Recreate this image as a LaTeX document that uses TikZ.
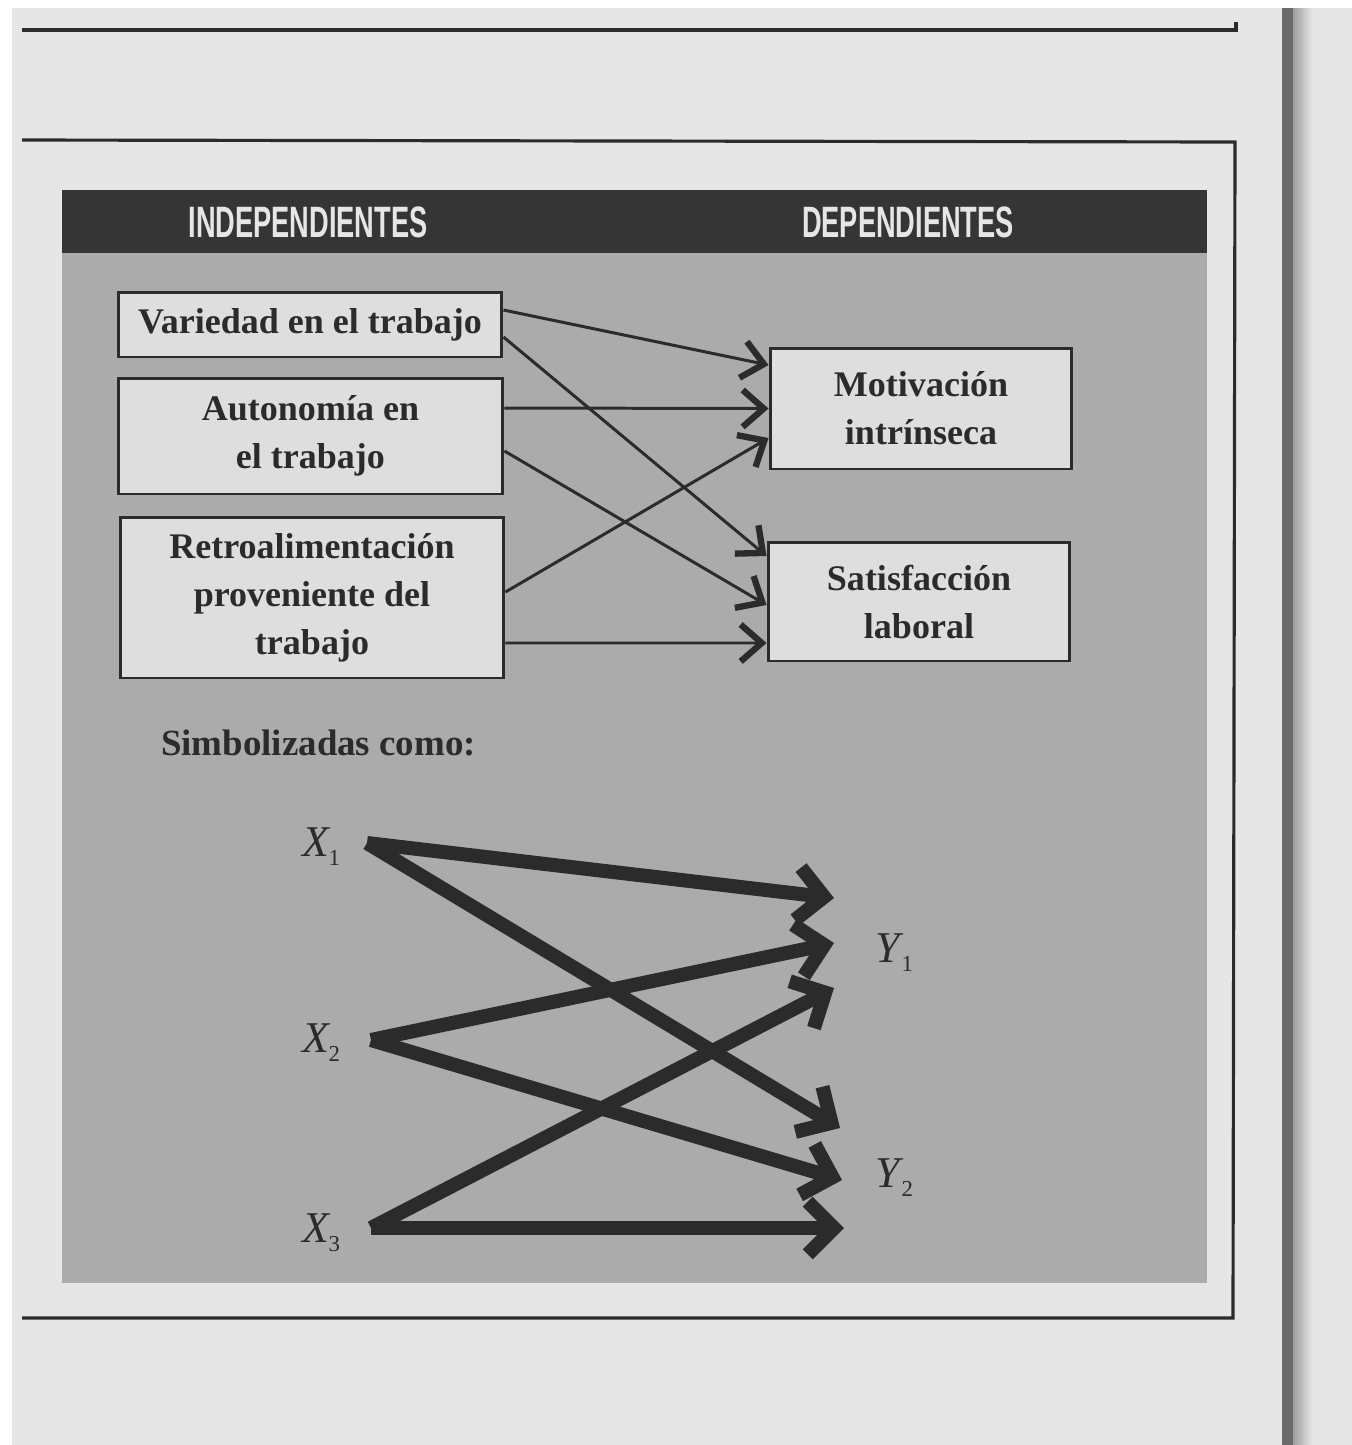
\documentclass[tikz,border=0pt]{standalone}
\usepackage{fontspec}
\setmainfont{Liberation Serif}
\newfontfamily\headfont{Liberation Sans}[FakeStretch=0.62]
\usetikzlibrary{arrows.meta,calc}

\definecolor{pagegray}{HTML}{E6E6E6}
\definecolor{panelgray}{HTML}{ABABAB}
\definecolor{boxgray}{HTML}{DEDEDE}
\definecolor{headgray}{HTML}{353535}
\definecolor{inkgray}{HTML}{2B2B2B}

\newcommand{\boxtext}{\bfseries\fontsize{20.5}{27.3}\selectfont}
\newcommand{\varsub}[2]{\textit{#1}\kern-1pt\raisebox{-0.45ex}{\fontsize{13}{13}\selectfont #2}}

\tikzset{
  varbox/.style={draw=inkgray, line width=1.7pt, fill=boxgray,
    align=center, text=inkgray, font=\boxtext, inner sep=0pt},
  thinarrow/.style={draw=inkgray, line width=1.7pt,
    -{Straight Barb[length=12pt,width=21pt,line width=3.6pt,sharp]}},
  thickarrow/.style={draw=inkgray, line width=8pt,
    -{Straight Barb[length=15pt,width=30pt,line width=8pt,sharp]}},
  symlabel/.style={text=inkgray, font=\fontsize{25}{25}\selectfont, inner sep=0pt},
  headlabel/.style={text=pagegray, font=\headfont\bfseries\fontsize{25}{25}\selectfont}
}

\begin{document}
\begin{tikzpicture}[x=0.02cm,y=-0.02cm]

\useasboundingbox (0,0) rectangle (1352,1445);

% Page
\fill[white] (0,0) rectangle (1352,1445);
\fill[pagegray] (12,8) rectangle (1352,1445);
\fill[black!58] (1282,8) rectangle (1293,1445);
\shade[left color=black!38, right color=pagegray] (1293,8) rectangle (1312,1445);

% Rules of the page
\draw[inkgray, line width=2.3pt] (22,30) -- (1236,30) -- (1236,22);
\draw[inkgray, line width=1.8pt] (22,140) -- (1235,142) -- (1233,1318) -- (22,1318);

% Panel
\fill[panelgray] (62,253) rectangle (1207,1283);
\fill[headgray] (62,190) rectangle (1207,253);

\node[headlabel] (indep) at (308,222) {INDEPENDIENTES};
\node[headlabel] (dep) at (908,222) {DEPENDIENTES};

% Variables independientes
\node[varbox, minimum width=7.68cm, minimum height=1.3cm] (var)
  at (310,324.5) {Variedad en el trabajo};
\node[varbox, minimum width=7.7cm, minimum height=2.32cm] (aut)
  at (310.5,436) {Autonomía en\\el trabajo};
\node[varbox, minimum width=7.68cm, minimum height=3.22cm] (ret)
  at (312,597.5) {Retroalimentación\\proveniente del\\trabajo};

% Variables dependientes
\node[varbox, minimum width=6.04cm, minimum height=2.42cm] (mot)
  at (921,408.5) {Motivación\\intrínseca};
\node[varbox, minimum width=6.04cm, minimum height=2.38cm] (sat)
  at (919,601.5) {Satisfacción\\laboral};

\draw[thinarrow] ([yshift=0.29cm]var.east) -- ([yshift=0.87cm]mot.west);
\draw[thinarrow] ([yshift=-0.25cm]var.east) -- ([yshift=0.91cm]sat.west);
\draw[thinarrow] ([yshift=0.56cm]aut.east) -- ([yshift=0cm]mot.west);
\draw[thinarrow] ([yshift=-0.3cm]aut.east) -- ([yshift=-0.07cm]sat.west);
\draw[thinarrow] ([yshift=0.11cm]ret.east) -- ([yshift=-0.59cm]mot.west);
\draw[thinarrow] ([yshift=-0.91cm]ret.east) -- ([yshift=-0.83cm]sat.west);

\node[anchor=west, text=inkgray, font=\bfseries\fontsize{21}{21}\selectfont]
  (simb) at (155,743) {Simbolizadas como:};

% Simbolos
\node[symlabel] (x1) at (321,847) {\varsub{X}{1}};
\node[symlabel] (x2) at (321,1043) {\varsub{X}{2}};
\node[symlabel] (x3) at (321,1233) {\varsub{X}{3}};
\node[symlabel] (y1) at (894,953) {\varsub{Y}{1}};
\node[symlabel] (y2) at (894,1178) {\varsub{Y}{2}};

\draw[thickarrow] ($(x1)+(46,-4)$) -- ($(y1)+(-60,-55)$);
\draw[thickarrow] ($(x1)+(46,-4)$) -- ($(y2)+(-54,-50)$);
\draw[thickarrow] ($(x2)+(50,-3)$) -- ($(y1)+(-60,-10)$);
\draw[thickarrow] ($(x2)+(50,-3)$) -- ($(y2)+(-52,2)$);
\draw[thickarrow] ($(x3)+(50,-5)$) -- ($(y1)+(-60,35)$);
\draw[thickarrow] ($(x3)+(50,-5)$) -- ($(y2)+(-50,50)$);

\end{tikzpicture}
\end{document}
